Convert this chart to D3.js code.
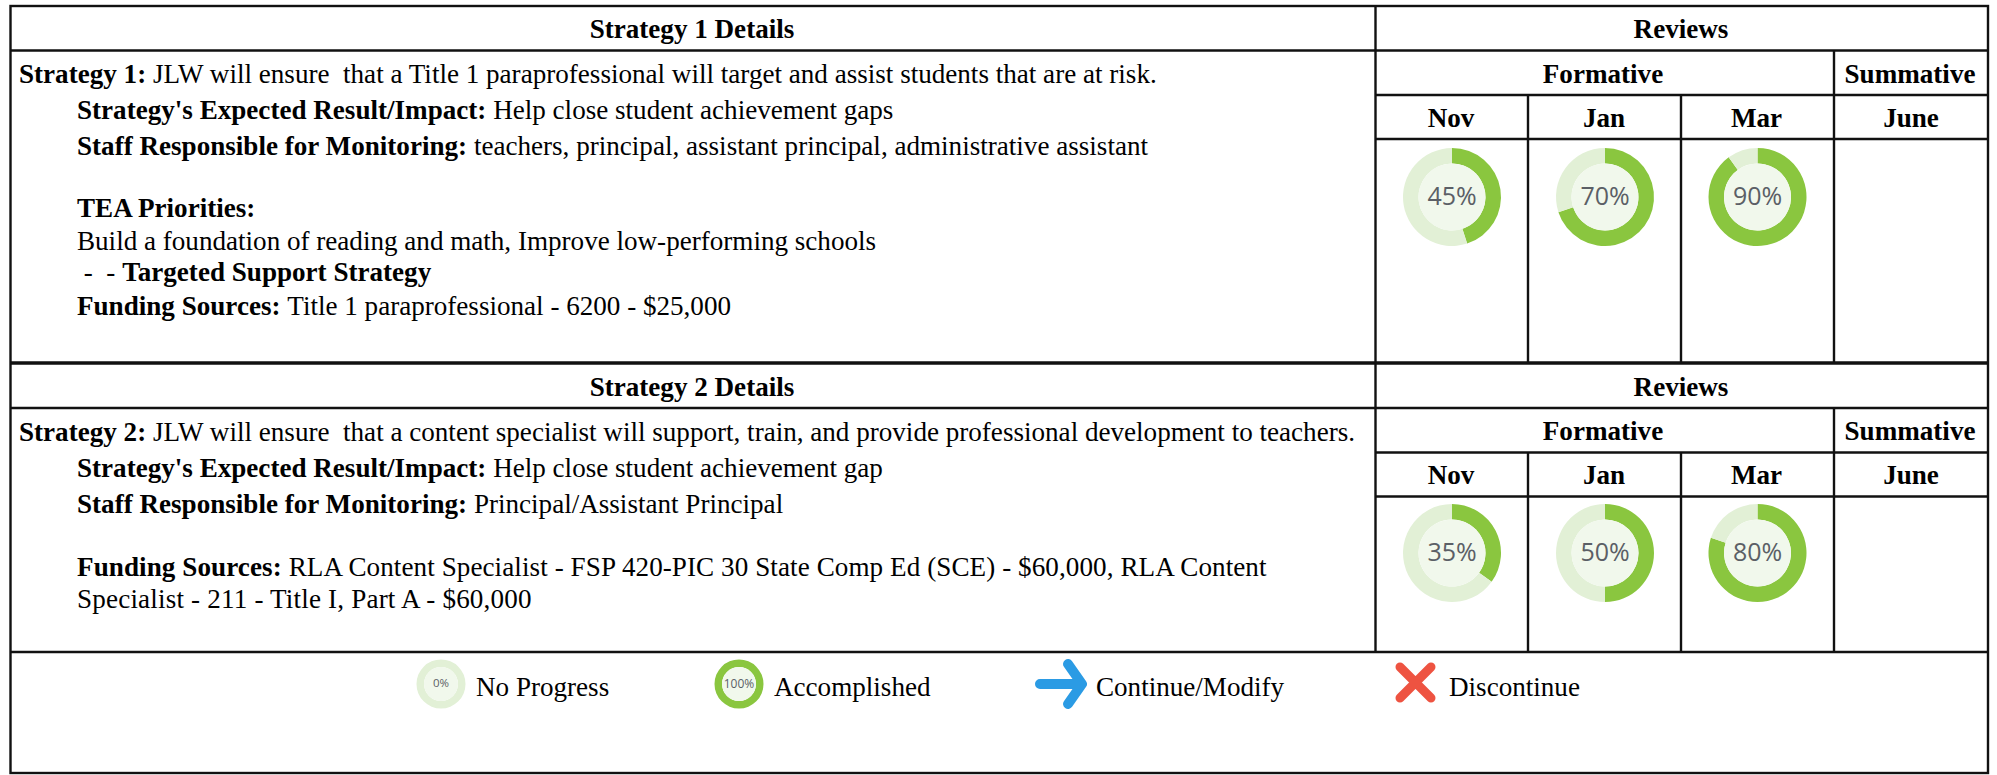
<!DOCTYPE html>
<html>
<head>
<meta charset="utf-8">
<script src="https://cdn.jsdelivr.net/npm/d3@7"></script>
<style>
  html, body { margin: 0; padding: 0; background: white; }
  svg { display: block; }
  text { font-family: "Liberation Serif", serif; font-size: 27.1px; fill: black; }
  .pct { font-family: "Open Sans", sans-serif; fill: #5b5f66; }
</style>
</head>
<body>
<div id="container"></div>
<script>
let w = 1997;
let h = 775;

// review values, one list per strategy, same order as the months
let months = ["Nov", "Jan", "Mar"];
let strategy1Values = [45, 70, 90];
let strategy2Values = [35, 50, 80];
let legendValues = [0, 100];

let strategy1Lines = [
  [["Strategy 1: ", true], ["JLW will ensure  that a Title 1 paraprofessional will target and assist students that are at risk.", false]],
  [["Strategy's Expected Result/Impact: ", true], ["Help close student achievement gaps", false]],
  [["Staff Responsible for Monitoring: ", true], ["teachers, principal, assistant principal, administrative assistant", false]],
  [["TEA Priorities:", true]],
  [["Build a foundation of reading and math, Improve low-performing schools", false]],
  [[" -  - ", false], ["Targeted Support Strategy", true]],
  [["Funding Sources: ", true], ["Title 1 paraprofessional - 6200 - $25,000", false]]
];
let strategy1LineY = [83, 119, 155, 217, 249.5, 281, 315];
let strategy1LineX = [19, 77, 77, 77, 77, 77, 77];
let strategy1Spacing = [0, 0, 0, 0, 0, 0, 0];

let strategy2Lines = [
  [["Strategy 2: ", true], ["JLW will ensure  that a content specialist will support, train, and provide professional development to teachers.", false]],
  [["Strategy's Expected Result/Impact: ", true], ["Help close student achievement gap", false]],
  [["Staff Responsible for Monitoring: ", true], ["Principal/Assistant Principal", false]],
  [["Funding Sources: ", true], ["RLA Content Specialist - FSP 420-PIC 30 State Comp Ed (SCE) - $60,000, RLA Content", false]],
  [["Specialist - 211 - Title I, Part A - $60,000", false]]
];
let strategy2LineY = [441, 477, 513, 576, 608];
let strategy2LineX = [19, 77, 77, 77, 77];
let strategy2Spacing = [0, 0, 0, 0.08, 0.18];

let legendLabels = ["No Progress", "Accomplished", "Continue/Modify", "Discontinue"];
let legendLabelX = [476, 774, 1096, 1449];

let colGreen = "#8ac63f";
let colPale = "#e2f0d6";
let colInner = "#f1f8ec";

let viz = d3.select("#container")
  .append("svg")
    .attr("width", w)
    .attr("height", h)
    .style("background-color", "white")
;

function hline(y, x1, x2, sw){
  viz.append("line")
    .attr("x1", x1).attr("x2", x2)
    .attr("y1", y).attr("y2", y)
    .style("stroke", "#111")
    .style("stroke-width", sw || 2.4)
  ;
}
function vline(x, y1, y2, sw){
  viz.append("line")
    .attr("x1", x).attr("x2", x)
    .attr("y1", y1).attr("y2", y2)
    .style("stroke", "#111")
    .style("stroke-width", sw || 2.4)
  ;
}

let left = 10.5;
let colA = 1375.5;
let colNov = 1528;
let colJan = 1681;
let colMar = 1834;
let right = 1988;
let monthCenters = [1452, 1605, 1757.5];

function label(str, x, y){
  viz.append("text")
    .text(str)
    .attr("x", x)
    .attr("y", y)
    .attr("text-anchor", "middle")
    .style("font-weight", "bold")
  ;
}

// one strategy block: header rows, grid, text, donuts
function drawBlock(top, n, lines, lineX, lineY, spacing, values, bottom, donutY){
  hline(top + 44.5, left, right);
  hline(top + 89, colA, right);
  hline(top + 133, colA, right);
  vline(colA, top, bottom);
  vline(colMar, top + 44.5, bottom);
  vline(colNov, top + 89, bottom);
  vline(colJan, top + 89, bottom);

  label("Strategy " + n + " Details", 692, top + 32);
  label("Reviews", 1681, top + 32);
  label("Formative", 1603, top + 76.5);
  label("Summative", 1910, top + 76.5);
  months.forEach(function(m, i){ label(m, monthCenters[i] - 1, top + 120.5); });
  label("June", 1911, top + 120.5);

  lines.forEach(function(parts, i){
    let t = viz.append("text")
      .attr("x", lineX[i])
      .attr("y", lineY[i])
      .attr("xml:space", "preserve")
      .style("white-space", "pre")
      .style("letter-spacing", spacing[i] + "px")
    ;
    parts.forEach(function(p){
      t.append("tspan")
        .text(p[0])
        .style("font-weight", p[1] ? "bold" : "normal")
      ;
    });
  });

  values.forEach(function(v, i){
    donut(monthCenters[i], donutY, 49, 33.5, v, 25);
  });
}

function donut(cx, cy, rOuter, rInner, value, fontSize){
  let g = viz.append("g").attr("transform", "translate(" + cx + "," + cy + ")");
  let pie = d3.pie().sort(null);
  let arc = d3.arc().innerRadius(rInner).outerRadius(rOuter);
  g.selectAll("path")
    .data(pie([value, 100 - value]))
    .enter()
    .append("path")
      .attr("d", arc)
      .attr("fill", function(d, i){ return i == 0 ? colGreen : colPale; })
  ;
  g.append("circle")
    .attr("r", rInner)
    .attr("fill", colInner)
  ;
  g.append("text")
    .attr("class", "pct")
    .text(value + "%")
    .attr("text-anchor", "middle")
    .attr("y", fontSize * 0.3)
    .style("font-size", fontSize + "px")
  ;
}

drawBlock(6, 1, strategy1Lines, strategy1LineX, strategy1LineY, strategy1Spacing, strategy1Values, 362, 197);
drawBlock(363.5, 2, strategy2Lines, strategy2LineX, strategy2LineY, strategy2Spacing, strategy2Values, 652, 553);

// outer frame and the thick rows
hline(363, left, right, 3.5);
hline(652, left, right);
viz.append("rect")
  .attr("x", left).attr("y", 6)
  .attr("width", right - left).attr("height", 767)
  .attr("fill", "none")
  .style("stroke", "#111")
  .style("stroke-width", 2.4)
;

// legend
donut(441, 684, 24.5, 17, legendValues[0], 11.5);
donut(739, 684, 24.5, 17, legendValues[1], 12);

viz.append("path") // arrow
  .attr("d", "M1040 684 H1081 M1068 664 L1082 684 L1068 704")
  .attr("fill", "none")
  .attr("stroke", "#2b9be4")
  .attr("stroke-width", 10)
  .attr("stroke-linecap", "round")
  .attr("stroke-linejoin", "round")
;
viz.append("path") // cross
  .attr("d", "M1400 667 L1431 698 M1431 667 L1400 698")
  .attr("fill", "none")
  .attr("stroke", "#ee5341")
  .attr("stroke-width", 9)
  .attr("stroke-linecap", "round")
;

legendLabels.forEach(function(l, i){
  viz.append("text")
    .text(l)
    .attr("x", legendLabelX[i])
    .attr("y", 696)
  ;
});
</script>
</body>
</html>
